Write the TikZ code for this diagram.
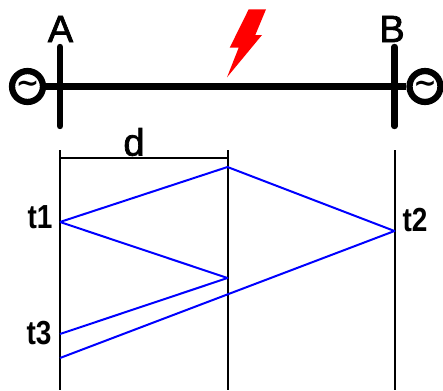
\documentclass[tikz,border=0pt]{standalone}
\usepackage{fontspec}
\setmainfont{Liberation Sans}
\newfontfamily\tagfont[FakeBold=2]{Liberation Sans}
\newfontfamily\signfont{DejaVu Sans Bold}
\definecolor{wavebolt}{HTML}{FF0000}
\definecolor{waveblue}{HTML}{0000FF}
\tikzset{
  busbar/.style={line width=4.8pt, line cap=round},
  feeder/.style={line width=4.9pt},
  source/.style={circle, draw, line width=4.7pt, minimum size=23.2pt, inner sep=0pt, fill=white, font=\signfont\fontsize{21}{21}\selectfont},
  axisline/.style={line width=1.5pt},
  wave/.style={line width=1.5pt, waveblue, line join=round},
  tag/.style={font=\tagfont\fontsize{28.5}{28.5}\selectfont, inner sep=0pt},
  timetag/.style={font=\fontsize{25}{25}\selectfont\bfseries, inner sep=0pt, xscale=0.84}
}

\begin{document}
\begin{tikzpicture}[x=0.75pt, y=-0.75pt]
  \useasboundingbox (0,0) rectangle (443,390);
  % one-line system
  \node[source] (srcA) at (27.5,86.5) {∼};
  \node[source] (srcB) at (425,86.5) {∼};
  \draw[feeder] (srcA) -- (srcB);
  \coordinate (busAtop) at (60,47);
  \coordinate (busAbot) at (60,126);
  \coordinate (busBtop) at (394.5,47);
  \coordinate (busBbot) at (394.5,126);
  \draw[busbar] (busAtop) -- (busAbot);
  \draw[busbar] (busBtop) -- (busBbot);
  \node[tag] (lblA) at (60.5,29) {A};
  \node[tag] (lblB) at (392,29) {B};
  \fill[wavebolt] (248.7,9.3) -- (266,9.3) -- (255.3,35) -- (262,35) -- (227,77.3) -- (238.7,47.7) -- (229.7,47.7) -- cycle;
  % lattice axes
  \coordinate (axAtop) at (60,150);
  \coordinate (axAbot) at (60,390);
  \coordinate (axMtop) at (227.5,150);
  \coordinate (axMbot) at (227.5,390);
  \coordinate (axBtop) at (394.5,150);
  \coordinate (axBbot) at (394.5,390);
  \draw[axisline] (axAtop) -- (axAbot);
  \draw[axisline] (axMtop) -- (axMbot);
  \draw[axisline] (axBtop) -- (axBbot);
  \coordinate (dA) at (60,158);
  \coordinate (dM) at (227.5,158);
  \draw[axisline] (dA) -- (dM);
  \node[tag] (lblD) at (134,142) {d};
  % travelling waves
  \coordinate (hit1) at (60,222);
  \coordinate (peak) at (227.5,167);
  \coordinate (hit2) at (394.5,231);
  \coordinate (exit2) at (60,358);
  \coordinate (fault) at (227.5,278);
  \coordinate (hit3) at (60,334);
  \draw[wave] (hit1) -- (peak) -- (hit2) -- (exit2);
  \draw[wave] (hit1) -- (fault) -- (hit3);
  \node[timetag] (lblT1) at (40,217) {t1};
  \node[timetag] (lblT2) at (415,220) {t2};
  \node[timetag] (lblT3) at (39,333) {t3};
\end{tikzpicture}
\end{document}
